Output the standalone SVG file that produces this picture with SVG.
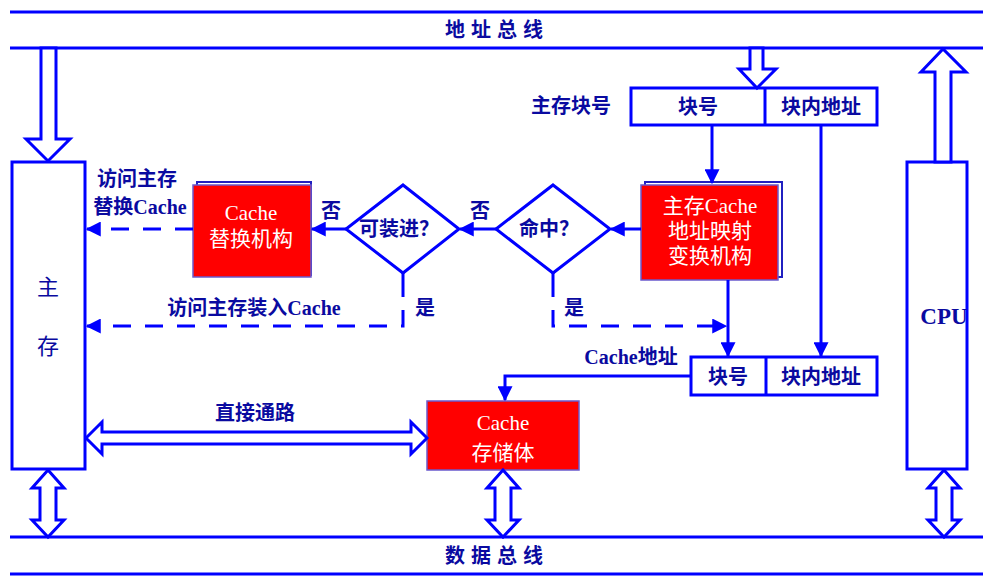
<svg xmlns="http://www.w3.org/2000/svg" width="993" height="585" viewBox="0 0 993 585">
<defs>
<style>
.ln{stroke:#0000ff;stroke-width:3;fill:none}
.dash{stroke:#0000ff;stroke-width:3;fill:none;stroke-dasharray:18 14}
.box{stroke:#0000ff;stroke-width:3;fill:#fff}
.hol{stroke:#0000ff;stroke-width:3;fill:#fff;stroke-linejoin:miter}
.red{fill:#ff0000;stroke:#6a5acd;stroke-width:1.5}
.lbl{font-family:"Liberation Serif","Noto Sans CJK SC",serif;font-weight:bold;font-size:20px;fill:#0a0aa0}
.wt{font-family:"Liberation Serif","Noto Sans CJK SC",serif;font-size:21px;fill:#fff}
</style>
<marker id="ah" viewBox="0 0 12 12" refX="11" refY="6" markerWidth="5" markerHeight="5" orient="auto" markerUnits="strokeWidth">
<path d="M0,0 L12,6 L0,12 z" fill="#0000ff"/>
</marker>
</defs>
<rect width="993" height="585" fill="#fff"/>

<g id="address-bus">
<line class="ln" x1="10" y1="12" x2="983" y2="12"/>
<line class="ln" x1="10" y1="48" x2="983" y2="48"/>
<text class="lbl" x="497" y="37" text-anchor="middle" letter-spacing="6">地址总线</text>
</g>
<g id="data-bus">
<line class="ln" x1="10" y1="537" x2="983" y2="537"/>
<line class="ln" x1="10" y1="574" x2="983" y2="574"/>
<text class="lbl" x="497" y="563" text-anchor="middle" letter-spacing="6">数据总线</text>
</g>

<g id="main-memory">
<rect class="box" x="12" y="162" width="73" height="307"/>
<text x="48" y="295" text-anchor="middle" font-family="'Noto Sans CJK SC',sans-serif" font-size="22" fill="#0a0aa0">主</text>
<text x="48" y="354" text-anchor="middle" font-family="'Noto Sans CJK SC',sans-serif" font-size="22" fill="#0a0aa0">存</text>
</g>

<g id="cpu">
<rect class="box" x="907" y="162" width="60" height="307"/>
<text class="lbl" x="944" y="324" text-anchor="middle" style="font-size:23px">CPU</text>
</g>

<g id="mm-block-addr">
<text class="lbl" x="571" y="113" text-anchor="middle">主存块号</text>
<rect class="box" x="631" y="88" width="246" height="37"/>
<line class="ln" x1="765" y1="88" x2="765" y2="125"/>
<text class="lbl" x="698" y="114" text-anchor="middle">块号</text>
<text class="lbl" x="821" y="114" text-anchor="middle">块内地址</text>
</g>

<g id="cache-addr">
<text class="lbl" x="631" y="364" text-anchor="middle">Cache地址</text>
<rect class="box" x="691" y="357" width="186" height="38"/>
<line class="ln" x1="766" y1="357" x2="766" y2="395"/>
<text class="lbl" x="728" y="384" text-anchor="middle">块号</text>
<text class="lbl" x="821" y="384" text-anchor="middle">块内地址</text>
</g>

<g id="mapping-unit">
<rect x="645" y="182" width="137" height="95" fill="none" stroke="#2020c0" stroke-width="2"/>
<rect class="red" x="641" y="185" width="137" height="95"/>
<text class="wt" x="710" y="213" text-anchor="middle">主存Cache</text>
<text class="wt" x="710" y="238" text-anchor="middle">地址映射</text>
<text class="wt" x="710" y="263" text-anchor="middle">变换机构</text>
</g>

<g id="hit-decision">
<polygon class="hol" points="553,185 610,229 553,273 496,229"/>
<text class="lbl" x="549" y="236" text-anchor="middle">命中？</text>
</g>

<g id="load-decision">
<polygon class="hol" points="403,185 459,229 403,273 346,229"/>
<text class="lbl" x="399" y="236" text-anchor="middle">可装进？</text>
</g>

<g id="replace-unit">
<rect x="197" y="182" width="114" height="93" fill="none" stroke="#2020c0" stroke-width="2"/>
<rect class="red" x="193" y="185" width="118" height="92"/>
<text class="wt" x="251" y="220" text-anchor="middle">Cache</text>
<text class="wt" x="251" y="246" text-anchor="middle">替换机构</text>
</g>

<g id="cache-store">
<rect class="red" x="427" y="401" width="152" height="69"/>
<text class="wt" x="503" y="430" text-anchor="middle">Cache</text>
<text class="wt" x="503" y="460" text-anchor="middle">存储体</text>
</g>

<g id="connectors">
<polygon class="hol" points="41,48 41,139 26,139 48,161 70,139 56,139 56,48"/>
<polygon class="hol" points="750,48 750,69 739,69 757,88 776,69 763,69 763,48"/>
<polygon class="hol" points="935,162 935,72 921,72 943,49 966,72 951,72 951,162"/>
<polygon class="hol" points="48,470 64,488 56,488 56,520 64,520 48,537 32,520 40,520 40,488 32,488"/>
<polygon class="hol" points="503,470 519,488 511,488 511,520 519,520 503,537 487,520 495,520 495,488 487,488"/>
<polygon class="hol" points="944,470 960,488 952,488 952,520 960,520 944,537 928,520 936,520 936,488 928,488"/>
<polygon class="hol" points="86,438 102,422 102,432 411,432 411,422 427,438 411,454 411,444 102,444 102,454"/>
<text class="lbl" x="255" y="420" text-anchor="middle">直接通路</text>

<line class="ln" x1="712" y1="125" x2="712" y2="183" marker-end="url(#ah)"/>
<line class="ln" x1="821" y1="125" x2="821" y2="356" marker-end="url(#ah)"/>
<line class="ln" x1="728" y1="280" x2="728" y2="356" marker-end="url(#ah)"/>
<polyline class="ln" points="691,376 505,376 505,400" marker-end="url(#ah)"/>

<line class="ln" x1="641" y1="229" x2="611" y2="229" marker-end="url(#ah)"/>
<line class="ln" x1="496" y1="229" x2="460" y2="229" marker-end="url(#ah)"/>
<text class="lbl" x="480" y="218" text-anchor="middle">否</text>
<line class="ln" x1="346" y1="229" x2="312" y2="229" marker-end="url(#ah)"/>
<text class="lbl" x="331" y="218" text-anchor="middle">否</text>
<line class="dash" x1="193" y1="229" x2="87" y2="229" marker-end="url(#ah)"/>
<text class="lbl" x="137" y="186" text-anchor="middle">访问主存</text>
<text class="lbl" x="140" y="214" text-anchor="middle">替换Cache</text>

<line class="ln" x1="403" y1="273" x2="403" y2="297"/>
<polyline class="dash" points="403,310 403,326 87,326" marker-end="url(#ah)"/>
<text class="lbl" x="425" y="315" text-anchor="middle">是</text>
<text class="lbl" x="254" y="315" text-anchor="middle">访问主存装入Cache</text>

<line class="ln" x1="553" y1="273" x2="553" y2="297"/>
<polyline class="dash" points="553,310 553,326 726,326" marker-end="url(#ah)"/>
<text class="lbl" x="574" y="315" text-anchor="middle">是</text>
</g>
</svg>
